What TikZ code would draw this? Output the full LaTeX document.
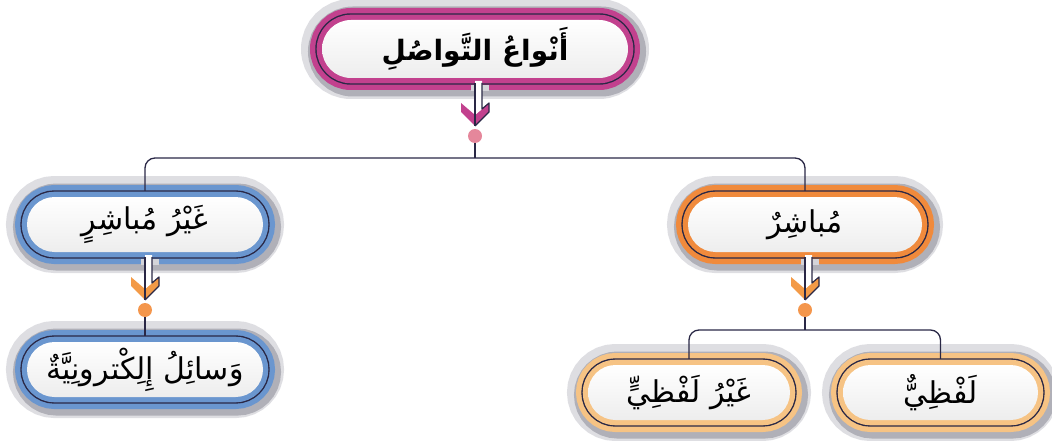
\documentclass[tikz,border=0pt]{standalone}
\usepackage{fontspec}
\usetikzlibrary{shapes.misc,calc,shadows}
\TeXXeTstate=1
\newfontfamily\arabicfont[Script=Arabic]{DejaVu Sans}
\definecolor{darkline}{HTML}{2A2846}
\definecolor{magband}{HTML}{C2418E}
\definecolor{blueband}{HTML}{6A96CF}
\definecolor{orangeband}{HTML}{F08A3C}
\definecolor{peachband}{HTML}{F6C384}
\definecolor{shadowA}{HTML}{DEDEE2}
\definecolor{shadowB}{HTML}{B0B0B8}
\definecolor{gapgray}{HTML}{D4D4D9}
\definecolor{pinkdot}{HTML}{E5879B}
\definecolor{orangedot}{HTML}{F4964C}
\definecolor{chevorange}{HTML}{F39A47}
\begin{document}
\begin{tikzpicture}[x=1pt,y=-1pt,
  pill/.style={rounded rectangle, draw=none, inner sep=0pt, minimum height=55pt,
    text=black, font=\arabicfont\fontsize{30}{34}\selectfont,
    preaction={draw=shadowA, line width=42pt},
    general shadow={shadow xshift=2pt, shadow yshift=-2.5pt, draw=shadowB, line width=32pt},
    preaction={draw=#1, line width=24pt},
    preaction={draw=darkline, line width=13.4pt},
    preaction={draw=#1, line width=10.6pt},
    top color=white, bottom color=black!7},
  conn/.style={draw=darkline, line width=1.3pt, rounded corners=10pt},
  dotnode/.style={circle, fill=#1, minimum size=14pt, inner sep=0pt},
  pics/chev/.style={code={
    \fill[gapgray] (-4,7) rectangle (14,13);
    \fill[#1] (-14,25) -- (0,37) -- (14,25) -- (14,34) -- (0,48) -- (-14,34) -- cycle;
    \fill[white] (0,3) -- (0,37) -- (7,31) -- (7,3) -- cycle;
    \draw[darkline, line width=1.2pt, line join=round] (0,5) -- (0,48);
    \draw[darkline, line width=1.2pt, line join=round]
      (7,5) -- (7,31) -- (14,25) -- (14,34) -- (0,48);
  }}
]
\useasboundingbox (0,0) rectangle (1052,441);

\node[pill=magband, minimum width=306pt, minimum height=58pt,
  font=\arabicfont\bfseries\fontsize{28}{32}\selectfont] (top) at (475,49)
  {\beginR أَنْواعُ التَّواصُلِ\endR};
\node[pill=blueband, minimum width=236pt] (ind) at (145,224.5)
  {\beginR غَيْرُ مُباشِرٍ\endR};
\node[pill=orangeband, minimum width=234pt] (dir) at (805,224.5)
  {\beginR مُباشِرٌ\endR};
\node[pill=blueband, minimum width=236pt] (elec) at (145,369.5)
  {\beginR وَسائِلُ إِلِكْترونِيَّةٌ\endR};
\node[pill=peachband, minimum width=202pt] (nonverb) at (689,392.5)
  {\beginR غَيْرُ لَفْظِيٍّ\endR};
\node[pill=peachband, minimum width=195pt] (verb) at (940.5,392.5)
  {\beginR لَفْظِيٌّ\endR};

\pic at (475,78) {chev=magband};
\pic at (145,252) {chev=chevorange};
\pic at (805,252) {chev=chevorange};

\node[dotnode=pinkdot] (d1) at (475,136) {};
\node[dotnode=orangedot] (d2) at (145,310) {};
\node[dotnode=orangedot] (d3) at (805,310) {};

\coordinate (j1) at (475,158);
\coordinate (j2) at (805,330);

\draw[conn] (d1) -- (j1);
\draw[conn] ([yshift=6pt]ind.north) |- (j1) -| ([yshift=6pt]dir.north);
\draw[conn] (d2) -- ([yshift=6pt]elec.north);
\draw[conn] (d3) -- (j2);
\draw[conn] ([yshift=6pt]nonverb.north) |- (j2) -| ([yshift=6pt]verb.north);
\end{tikzpicture}
\end{document}
